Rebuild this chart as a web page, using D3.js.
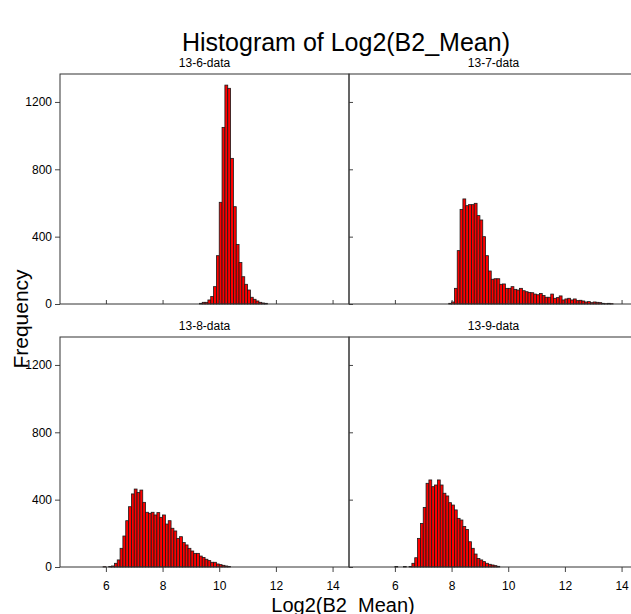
<!DOCTYPE html>
<html>
<head>
<meta charset="utf-8">
<script src="https://cdn.jsdelivr.net/npm/d3@7"></script>
<style>
  body { margin: 0; background: #fff; }
  text { font-family: "Liberation Sans", Arial, sans-serif; fill: #000; }
</style>
</head>
<body>
<svg width="631" height="614"></svg>
<script>
// histogram data, bin width 0.1 on log2 scale
let panelNames = ["13-6-data", "13-7-data", "13-8-data", "13-9-data"];
let binWidth = 0.1;
let binStart = [9.3, 7.9, 5.9, 6.0];

let counts136 = [4, 10, 10, 24, 44, 103, 287, 604, 1049, 1300, 1281, 865, 578, 354, 246, 162, 117, 83, 40, 28, 18, 10, 6, 4];
let counts137 = [4, 12, 93, 317, 562, 624, 584, 590, 590, 598, 525, 499, 400, 287, 196, 147, 150, 150, 117, 119,
    93, 93, 103, 87, 83, 93, 79, 73, 69, 67, 59, 55, 63, 50, 40, 40, 59, 34, 38, 48,
    24, 30, 34, 24, 30, 20, 22, 18, 12, 14, 8, 12, 10, 8, 4, 2, 4, 2];
let counts138 = [2, 0, 3, 6, 22, 42, 111, 184, 275, 358, 434, 463, 442, 457, 384, 325, 319, 325, 309, 323,
    295, 309, 255, 275, 230, 214, 170, 180, 145, 131, 111, 95, 81, 81, 65, 57, 46, 38, 28, 28,
    18, 14, 10, 6, 3];
let counts139 = [3, 0, 0, 3, 0, 3, 22, 55, 170, 259, 354, 497, 517, 477, 487, 517, 487, 438, 422, 382,
    368, 339, 289, 279, 240, 223, 150, 111, 77, 51, 42, 32, 22, 16, 12, 8, 4];

let allCounts = [counts136, counts137, counts138, counts139];
let xTicks = [6, 8, 10, 12, 14];
let yTicks = [0, 400, 800, 1200];

let svg = d3.select("svg");
let pw = 289, ph = 230;
let origin = [[60, 74], [349, 74], [60, 337], [349, 337]];

let xScale = d3.scaleLinear().domain([4.38, 14.58]).range([0, pw]);
let yScale = d3.scaleLinear().domain([0, 1366]).range([ph, 0]);

svg.append("rect").attr("width", 631).attr("height", 614).attr("fill", "#fff");

panelNames.forEach(function (name, p) {
    let col = p % 2, row = Math.floor(p / 2);
    let g = svg.append("g")
        .attr("transform", "translate(" + origin[p][0] + "," + origin[p][1] + ")");

    let bins = allCounts[p].map(function (c, i) {
        return { x0: binStart[p] + i * binWidth, n: c };
    }).filter(d => d.n > 0);

    g.selectAll(".bar")
        .data(bins)
        .enter().append("rect")
        .attr("class", "bar")
        .attr("x", d => xScale(d.x0))
        .attr("width", xScale(binWidth) - xScale(0))
        .attr("y", d => yScale(d.n))
        .attr("height", d => ph - yScale(d.n))
        .attr("fill", "#ff0000")
        .attr("stroke", "#1a1a1a")
        .attr("stroke-width", 0.8);

    // x axis: labels only on the bottom row, inner ticks on the top row
    let xAxis = d3.axisBottom(xScale).tickValues(xTicks)
        .tickSize(row == 1 ? 5 : -4)
        .tickPadding(9)
        .tickFormat(row == 1 ? d3.format("d") : "");
    let xa = g.append("g")
        .attr("transform", "translate(0," + ph + ")")
        .call(xAxis);
    xa.select(".domain").remove();
    xa.selectAll("line").attr("stroke", "#444");
    xa.selectAll("text").style("font-size", "12px").attr("fill", "#000");

    let yAxis = d3.axisLeft(yScale).tickValues(yTicks)
        .tickSize(col == 0 ? 5 : -4)
        .tickPadding(3)
        .tickFormat(col == 0 ? d3.format("d") : "");
    let ya = g.append("g").call(yAxis);
    ya.select(".domain").remove();
    ya.selectAll("line").attr("stroke", "#444");
    ya.selectAll("text").style("font-size", "12px").attr("fill", "#000");

    // panel frame
    g.append("rect")
        .attr("width", pw)
        .attr("height", ph)
        .attr("fill", "none")
        .attr("stroke", "#333")
        .attr("stroke-width", 1);

    g.append("text")
        .attr("x", pw / 2)
        .attr("y", -7)
        .attr("text-anchor", "middle")
        .style("font-size", "12px")
        .text(name);
});

svg.append("text")
    .attr("x", 346)
    .attr("y", 51)
    .attr("text-anchor", "middle")
    .style("font-size", "25px")
    .text("Histogram of Log2(B2_Mean)");

svg.append("text")
    .attr("transform", "translate(28,319) rotate(-90)")
    .attr("text-anchor", "middle")
    .style("font-size", "21px")
    .text("Frequency");

svg.append("text")
    .attr("x", 343)
    .attr("y", 612)
    .attr("text-anchor", "middle")
    .style("font-size", "20px")
    .text("Log2(B2_Mean)");
</script>
</body>
</html>
